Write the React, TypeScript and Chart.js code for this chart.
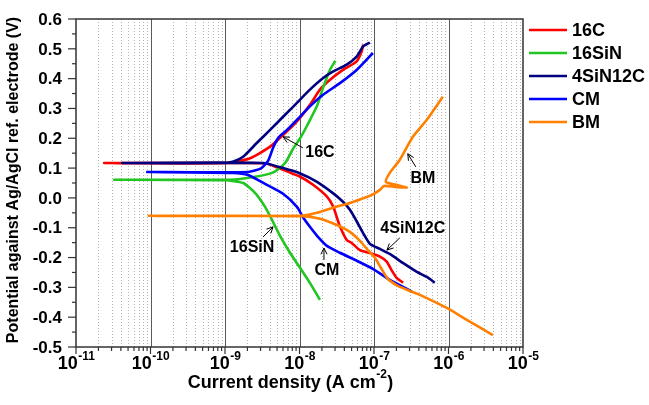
import React, { useEffect, useRef } from "react";
import { Chart, registerables } from "chart.js";

Chart.register(...registerables);

const FONT = '"Liberation Sans", Arial, Helvetica, sans-serif';

const seriesLabels = ["16C", "16SiN", "4SiN12C", "CM", "BM"];
const seriesColors = ["#ff0000", "#22c622", "#000080", "#0000ff", "#ff8000"];

// Each curve: cathodic end -> corrosion potential (left tip) -> anodic end
const current16C = [2.46e-7, 2.01e-7, 1.72e-7, 1.48e-7, 1.2e-7, 8.81e-8, 6.47e-8, 5.01e-8, 4.3e-8, 3.49e-8, 3.15e-8, 2.84e-8, 2.32e-8, 1.52e-8, 1.02e-8, 6.02e-9, 3.78e-9, 2.17e-9, 2.39e-11, 1.06e-9, 2.17e-9, 4.03e-9, 6.07e-9, 9.17e-9, 1.38e-8, 1.88e-8, 2.57e-8, 3.87e-8, 5.85e-8, 6.82e-8, 7.16e-8];
const potential16C = [-0.284, -0.268, -0.242, -0.214, -0.197, -0.185, -0.175, -0.151, -0.141, -0.096, -0.063, -0.029, 0.005, 0.044, 0.071, 0.094, 0.114, 0.117, 0.117, 0.117, 0.133, 0.172, 0.212, 0.256, 0.312, 0.363, 0.396, 0.43, 0.458, 0.491, 0.514];

const current16SiN = [1.88e-8, 1.38e-8, 1.02e-8, 7.46e-9, 5.48e-9, 4.28e-9, 3.45e-9, 2.53e-9, 1.75e-9, 1.0e-9, 3.26e-11, 1.17e-9, 2.53e-9, 4.28e-9, 5.48e-9, 6.59e-9, 8.19e-9, 1.02e-8, 1.26e-8, 1.72e-8, 2.07e-8, 2.57e-8, 3.04e-8];
const potential16SiN = [-0.342, -0.285, -0.235, -0.184, -0.127, -0.074, -0.03, 0.017, 0.05, 0.059, 0.061, 0.061, 0.071, 0.084, 0.101, 0.121, 0.165, 0.2, 0.242, 0.309, 0.369, 0.43, 0.46];

const current4SiN12C = [6.55e-7, 5.12e-7, 3.76e-7, 2.44e-7, 1.63e-7, 1.2e-7, 8.81e-8, 7.1e-8, 5.9e-8, 4.75e-8, 3.83e-8, 2.81e-8, 1.72e-8, 1.02e-8, 6.02e-9, 3.24e-9, 4.18e-11, 1.0e-9, 1.3e-9, 1.77e-9, 2.67e-9, 4.03e-9, 6.07e-9, 9.17e-9, 1.38e-8, 2.08e-8, 2.84e-8, 4.3e-8, 5.85e-8, 7.16e-8, 8.81e-8];
const potential4SiN12C = [-0.284, -0.265, -0.248, -0.218, -0.188, -0.171, -0.154, -0.117, -0.08, -0.04, -0.013, 0.016, 0.054, 0.082, 0.1, 0.117, 0.117, 0.117, 0.122, 0.139, 0.184, 0.228, 0.273, 0.318, 0.363, 0.402, 0.424, 0.447, 0.474, 0.508, 0.521];

const currentCM = [3.22e-7, 1.63e-7, 9.66e-8, 5.9e-8, 3.49e-8, 2.34e-8, 1.72e-8, 1.38e-8, 1.11e-8, 9.25e-9, 6.02e-9, 3.45e-9, 2.04e-9, 1.3e-9, 9.04e-11, 2.04e-9, 3.05e-9, 3.78e-9, 4.42e-9, 4.99e-9, 5.48e-9, 6.8e-9, 9.25e-9, 1.38e-8, 2.07e-8, 3.49e-8, 5.9e-8, 9.66e-8];
const potentialCM = [-0.314, -0.275, -0.238, -0.211, -0.184, -0.161, -0.127, -0.097, -0.064, -0.03, 0.014, 0.047, 0.077, 0.084, 0.087, 0.087, 0.099, 0.124, 0.168, 0.195, 0.208, 0.228, 0.262, 0.307, 0.346, 0.385, 0.43, 0.486];

const currentBM = [3.93e-6, 1.76e-6, 9.48e-7, 4.12e-7, 3.03e-7, 2.09e-7, 1.54e-7, 1.24e-7, 1.03e-7, 8.28e-8, 6.47e-8, 4.75e-8, 3.18e-8, 1.88e-8, 1.11e-8, 9.5e-11, 1.0e-8, 1.72e-8, 2.81e-8, 4.75e-8, 6.89e-8, 9.38e-8, 1.2e-7, 1.36e-7, 1.91e-7, 2.76e-7, 1.97e-7, 1.44e-7, 1.63e-7, 2.22e-7, 3.32e-7, 5.12e-7, 8.39e-7];
const potentialBM = [-0.46, -0.409, -0.369, -0.325, -0.312, -0.295, -0.272, -0.235, -0.201, -0.175, -0.144, -0.114, -0.091, -0.07, -0.061, -0.06, -0.06, -0.05, -0.033, -0.017, -0.003, 0.01, 0.027, 0.04, 0.037, 0.034, 0.044, 0.054, 0.084, 0.128, 0.205, 0.262, 0.339];

const seriesCurrents = [current16C, current16SiN, current4SiN12C, currentCM, currentBM];
const seriesPotentials = [potential16C, potential16SiN, potential4SiN12C, potentialCM, potentialBM];

const yTickValues = [-0.5, -0.4, -0.3, -0.2, -0.1, 0.0, 0.1, 0.2, 0.3, 0.4, 0.5, 0.6];
const xTickExponents = [-11, -10, -9, -8, -7, -6, -5];
const minorMultipliers = [2, 3, 4, 5, 6, 7, 8, 9];

const yTitle = "Potential against Ag/AgCl ref. electrode (V)";
const xTitleMain = "Current density (A cm";
const xTitleSup = "-2";
const xTitleEnd = ")";

const annotationLabels = ["16C", "BM", "16SiN", "CM", "4SiN12C"];
const annotationTextCurrent = [1.88e-8, 4.53e-7, 2.31e-9, 2.34e-8, 3.32e-7];
const annotationTextPotential = [0.151, 0.064, -0.168, -0.245, -0.104];
const arrowFromCurrent = [1.11e-8, 3.64e-7, 3.24e-9, 2.13e-8, 2.22e-7];
const arrowFromPotential = [0.168, 0.104, -0.131, -0.208, -0.134];
const arrowToCurrent = [6.02e-9, 2.84e-7, 4.42e-9, 2.13e-8, 1.49e-7];
const arrowToPotential = [0.205, 0.148, -0.097, -0.168, -0.175];

const decorPlugin = {
  id: "decor",
  beforeDatasetsDraw(chart: any) {
    const { ctx, chartArea: a } = chart;
    const xs = chart.scales.x;
    ctx.save();
    ctx.lineWidth = 1;
    ctx.strokeStyle = "#b4b4b4";
    ctx.setLineDash([1, 2]);
    for (const e of xTickExponents.slice(0, -1)) {
      for (const k of minorMultipliers) {
        const px = Math.round(xs.getPixelForValue(k * Math.pow(10, e))) + 0.5;
        ctx.beginPath();
        ctx.moveTo(px, a.top);
        ctx.lineTo(px, a.bottom);
        ctx.stroke();
      }
    }
    ctx.setLineDash([]);
    ctx.strokeStyle = "#5a5a5a";
    for (const e of xTickExponents.slice(1, -1)) {
      const px = Math.round(xs.getPixelForValue(Math.pow(10, e))) + 0.5;
      ctx.beginPath();
      ctx.moveTo(px, a.top);
      ctx.lineTo(px, a.bottom);
      ctx.stroke();
    }
    ctx.restore();
  },
  afterDraw(chart: any) {
    const { ctx, chartArea: a } = chart;
    const xs = chart.scales.x;
    const ys = chart.scales.y;
    ctx.save();
    // frame
    ctx.strokeStyle = "#333";
    ctx.lineWidth = 1.5;
    ctx.strokeRect(a.left, a.top, a.right - a.left, a.bottom - a.top);
    // y ticks
    ctx.lineWidth = 1.2;
    for (let i = 0; i < yTickValues.length; i++) {
      const v = yTickValues[i];
      const py = ys.getPixelForValue(v);
      ctx.beginPath();
      ctx.moveTo(a.left - 8, py);
      ctx.lineTo(a.left, py);
      ctx.stroke();
      if (i < yTickValues.length - 1) {
        const pm = ys.getPixelForValue((v + yTickValues[i + 1]) / 2);
        ctx.beginPath();
        ctx.moveTo(a.left - 4, pm);
        ctx.lineTo(a.left, pm);
        ctx.stroke();
      }
    }
    // x ticks
    for (const e of xTickExponents) {
      const px = xs.getPixelForValue(Math.pow(10, e));
      ctx.beginPath();
      ctx.moveTo(px, a.bottom);
      ctx.lineTo(px, a.bottom + 7);
      ctx.stroke();
      if (e < -5) {
        for (const k of minorMultipliers) {
          const pm = xs.getPixelForValue(k * Math.pow(10, e));
          ctx.beginPath();
          ctx.moveTo(pm, a.bottom);
          ctx.lineTo(pm, a.bottom + 4);
          ctx.stroke();
        }
      }
    }
    // y tick labels
    ctx.fillStyle = "#000";
    ctx.font = `bold 17px ${FONT}`;
    ctx.textAlign = "right";
    ctx.textBaseline = "middle";
    for (const v of yTickValues) {
      ctx.fillText(v.toFixed(1), a.left - 14, ys.getPixelForValue(v) + 1);
    }
    // x tick labels 10^n
    ctx.textBaseline = "alphabetic";
    ctx.textAlign = "left";
    for (const e of xTickExponents) {
      const px = xs.getPixelForValue(Math.pow(10, e));
      ctx.font = `bold 18px ${FONT}`;
      const w1 = ctx.measureText("10").width;
      ctx.font = `bold 12px ${FONT}`;
      const sup = String(e);
      const w2 = ctx.measureText(sup).width;
      const left = px - (w1 + w2) / 2;
      ctx.font = `bold 18px ${FONT}`;
      ctx.fillText("10", left, a.bottom + 22);
      ctx.font = `bold 12px ${FONT}`;
      ctx.fillText(sup, left + w1 + 0.5, a.bottom + 13);
    }
    // x title
    ctx.font = `bold 18px ${FONT}`;
    const t1 = ctx.measureText(xTitleMain).width;
    const t3 = ctx.measureText(xTitleEnd).width;
    ctx.font = `bold 12px ${FONT}`;
    const t2 = ctx.measureText(xTitleSup).width;
    const tx = 290 - (t1 + t2 + t3) / 2;
    ctx.font = `bold 18px ${FONT}`;
    ctx.fillText(xTitleMain, tx, 388);
    ctx.font = `bold 12px ${FONT}`;
    ctx.fillText(xTitleSup, tx + t1 + 0.5, 378);
    ctx.font = `bold 18px ${FONT}`;
    ctx.fillText(xTitleEnd, tx + t1 + t2 + 1, 388);
    // y title
    ctx.save();
    ctx.translate(14, 180);
    ctx.rotate(-Math.PI / 2);
    ctx.font = `bold 16px ${FONT}`;
    ctx.textAlign = "center";
    ctx.textBaseline = "middle";
    ctx.fillText(yTitle, 0, 0);
    ctx.restore();
    // legend
    const rows = [30, 53, 76, 99, 122];
    for (let s = 0; s < seriesLabels.length; s++) {
      ctx.strokeStyle = seriesColors[s];
      ctx.lineWidth = 2.5;
      ctx.beginPath();
      ctx.moveTo(529, rows[s]);
      ctx.lineTo(567, rows[s]);
      ctx.stroke();
      ctx.fillStyle = "#000";
      ctx.font = `bold 18px ${FONT}`;
      ctx.textAlign = "left";
      ctx.textBaseline = "middle";
      ctx.fillText(seriesLabels[s], 572, rows[s] + 1);
    }
    // annotations
    ctx.strokeStyle = "#000";
    ctx.fillStyle = "#000";
    ctx.lineWidth = 1;
    for (let i = 0; i < annotationLabels.length; i++) {
      const tx0 = xs.getPixelForValue(annotationTextCurrent[i]);
      const ty0 = ys.getPixelForValue(annotationTextPotential[i]);
      ctx.font = `bold 16px ${FONT}`;
      ctx.textAlign = "center";
      ctx.textBaseline = "middle";
      ctx.fillText(annotationLabels[i], tx0, ty0);
      const fx = xs.getPixelForValue(arrowFromCurrent[i]);
      const fy = ys.getPixelForValue(arrowFromPotential[i]);
      const hx = xs.getPixelForValue(arrowToCurrent[i]);
      const hy = ys.getPixelForValue(arrowToPotential[i]);
      ctx.beginPath();
      ctx.moveTo(fx, fy);
      ctx.lineTo(hx, hy);
      const ang = Math.atan2(hy - fy, hx - fx);
      const L = 7;
      ctx.moveTo(hx - L * Math.cos(ang - 0.45), hy - L * Math.sin(ang - 0.45));
      ctx.lineTo(hx, hy);
      ctx.lineTo(hx - L * Math.cos(ang + 0.45), hy - L * Math.sin(ang + 0.45));
      ctx.stroke();
    }
    ctx.restore();
  },
};

export default function App() {
  const ref = useRef<HTMLCanvasElement | null>(null);
  useEffect(() => {
    if (!ref.current) return;
    const datasets = seriesLabels.map((label, s) => ({
      label,
      data: seriesCurrents[s].map((c, i) => ({ x: c, y: seriesPotentials[s][i] })),
      borderColor: seriesColors[s],
      backgroundColor: seriesColors[s],
      borderWidth: 2.6,
      pointRadius: 0,
      showLine: true,
      fill: false,
      tension: 0.2,
      borderJoinStyle: "round" as const,
      order: 5 - s,
    }));
    const chart = new Chart(ref.current, {
      type: "scatter",
      data: { datasets },
      options: {
        animation: false,
        responsive: false,
        maintainAspectRatio: false,
        devicePixelRatio: 1,
        events: [],
        layout: { padding: { left: 76, right: 126, top: 19, bottom: 58 } },
        plugins: { legend: { display: false }, tooltip: { enabled: false } },
        scales: {
          x: { type: "logarithmic", min: 1e-11, max: 1e-5, display: false },
          y: { type: "linear", min: -0.5, max: 0.6, display: false },
        },
      },
      plugins: [decorPlugin],
    } as any);
    return () => chart.destroy();
  }, []);
  return (
    <div style={{ position: "fixed", left: 0, top: 0, width: 649, height: 405, background: "#fff" }}>
      <canvas ref={ref} width={649} height={405} style={{ display: "block" }} />
    </div>
  );
}
